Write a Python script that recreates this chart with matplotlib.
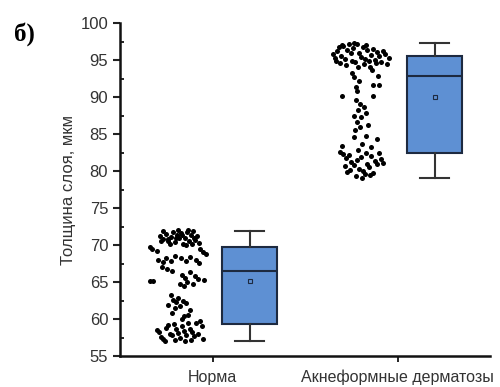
import numpy as np
import matplotlib.pyplot as plt

plt.rcParams['font.family'] = ['Liberation Sans', 'DejaVu Sans']

categories = ['Норма', 'Акнеформные дерматозы']

# box statistics: whisker low, Q1, median, Q3, whisker high, mean
whislo = [57.0, 79.1]
q1 = [59.3, 82.4]
med = [66.5, 92.8]
q3 = [69.8, 95.5]
whishi = [71.9, 97.3]
mean = [65.2, 90.0]

# raw measurements (horizontal pixel of each dot, value)
norma_px = [160, 163, 166, 168, 171, 173, 175, 177, 179, 181, 183, 185, 187, 189, 191,
            193, 195, 197, 199, 163, 170, 178, 186, 194, 168, 182, 176, 188, 161, 192,
            150, 152, 157, 200, 203, 206, 158, 163, 166, 171, 175, 181, 186, 190, 196,
            199, 167, 172, 162,
            150, 153, 204, 182, 185, 190, 195, 198, 180, 184, 193, 187,
            171, 173, 176, 178, 183, 186, 168, 175, 190, 180,
            184, 182, 172, 188,
            157, 159, 161, 163, 166, 168, 170, 172, 174, 176, 178, 180, 182, 184, 186,
            188, 190, 192, 194, 196, 198, 200, 202, 191, 185, 175, 165, 203]
norma_val = [71.2, 70.8, 71.5, 70.6, 71.1, 71.8, 70.4, 71.3, 70.9, 71.6, 70.2, 71.0, 71.7, 70.5, 71.4,
             71.9, 70.7, 71.2, 70.3, 71.9, 70.1, 72.0, 70.0, 70.9, 70.8, 71.4, 71.0, 72.0, 70.5, 70.2,
             69.7, 69.5, 69.2, 69.4, 69.0, 68.8, 68.0, 67.7, 68.3, 67.9, 68.5, 68.2, 67.8, 68.4, 68.0,
             67.6, 66.8, 66.5, 67.0,
             65.2, 65.2, 65.3, 66.0, 65.6, 66.3, 65.8, 65.4, 64.8, 64.4, 64.7, 65.0,
             63.2, 62.6, 62.3, 62.9, 62.5, 62.1, 61.9, 61.5, 61.2, 61.8,
             60.4, 60.0, 60.8, 60.6,
             58.5, 58.3, 57.6, 57.3, 58.8, 59.2, 58.0, 57.8, 59.3, 58.6, 58.1, 57.5, 59.0, 58.4, 57.9,
             59.4, 58.7, 58.2, 57.7, 59.5, 58.0, 59.7, 59.0, 57.2, 57.0, 57.2, 57.0, 57.3]

akne_px = [333, 335, 337, 339, 341, 343, 345, 347, 349, 351, 353, 355, 357, 359, 361,
           363, 365, 367, 369, 371, 373, 375, 377, 379, 381, 383, 385, 387, 389, 340,
           346, 352, 358, 364, 370, 376, 342, 354, 366, 336,
           352, 354, 359, 372, 378, 356, 357, 373, 379,
           342, 373, 356, 360, 364, 358, 366, 354, 361, 357, 368, 355, 360,
           354, 366, 377, 362, 342, 371,
           340, 343, 346, 349, 351, 354, 357, 359, 361, 363, 365, 367, 369, 371, 373,
           375, 377, 379, 381, 356, 362, 350, 345, 383, 366, 358, 347, 370]
akne_val = [95.8, 95.3, 96.2, 96.7, 95.6, 96.9, 95.1, 96.4, 97.1, 95.9, 96.6, 94.8, 97.2, 96.0, 95.4,
            96.8, 95.2, 96.3, 94.9, 95.7, 96.5, 95.0, 96.1, 95.5, 94.7, 96.2, 95.8, 94.5, 95.3, 94.6,
            94.3, 94.9, 94.1, 94.4, 94.0, 94.6, 97.0, 97.3, 97.0, 94.9,
            93.3, 92.7, 92.1, 93.6, 92.8, 91.4, 90.8, 91.6, 91.6,
            90.1, 90.2, 89.6, 89.0, 88.7, 88.2, 87.8, 87.5, 87.3, 86.6, 86.2, 85.6, 85.9,
            84.6, 84.7, 84.3, 83.6, 83.4, 83.2,
            82.6, 82.3, 81.7, 82.1, 81.2, 80.8, 81.5, 80.3, 81.9, 80.0, 79.6, 81.0, 80.5, 82.0, 79.8,
            81.4, 80.9, 82.4, 81.6, 79.3, 79.1, 80.1, 80.7, 81.1, 82.5, 82.8, 79.9, 79.4]

# pixel -> category units (ticks at 213 px and 398 px)
norma_x = (np.array(norma_px) - 213) / 185.0
akne_x = 1 + (np.array(akne_px) - 398) / 185.0

fig = plt.figure(figsize=(5, 3.87), dpi=100)
ax = fig.add_axes([0.24, 0.08, 0.74, 0.8605])

ax.scatter(norma_x, norma_val, s=13, color='black', zorder=3, linewidths=0)
ax.scatter(akne_x, akne_val, s=13, color='black', zorder=3, linewidths=0)

stats = []
for i in range(len(categories)):
    stats.append(dict(whislo=whislo[i], q1=q1[i], med=med[i], q3=q3[i],
                      whishi=whishi[i], mean=mean[i]))

edge = '#1d2a40'
ax.bxp(stats, positions=[0.2, 1.2], widths=0.3, capwidths=0.16,
       showfliers=False, showmeans=True, patch_artist=True,
       boxprops=dict(facecolor='#5e90d3', edgecolor=edge, linewidth=1.5),
       medianprops=dict(color=edge, linewidth=1.5),
       whiskerprops=dict(color='#333333', linewidth=1.5),
       capprops=dict(color='#333333', linewidth=1.5),
       meanprops=dict(marker='s', markersize=3.5, markerfacecolor='#5e90d3',
                      markeredgecolor=edge, markeredgewidth=0.8))

ax.set_xlim(-0.5, 1.5)
ax.set_ylim(55, 100)
ax.set_xticks([0, 1])
ax.set_xticklabels(categories, fontsize=11.5, color='#333333')
ax.set_yticks(np.arange(55, 101, 5))
ax.set_yticks(np.arange(57.5, 100, 5), minor=True)
ax.tick_params(axis='y', labelsize=12, colors='#222222', labelcolor='#333333',
               direction='out', length=5, width=1.5)
ax.tick_params(axis='y', which='minor', direction='in', length=3, width=1.2)
ax.tick_params(axis='x', direction='out', length=4, width=1.2, pad=6)

for side in ['top', 'right']:
    ax.spines[side].set_visible(False)
for side in ['left', 'bottom']:
    ax.spines[side].set_linewidth(1.8)
    ax.spines[side].set_color('#111111')

ax.set_ylabel('Толщина слоя, мкм', fontsize=12, color='#333333', labelpad=3)

fig.text(0.028, 0.895, 'б)', fontsize=18, fontweight='bold', family='Liberation Serif')

fig.savefig('out.png', dpi=100)
